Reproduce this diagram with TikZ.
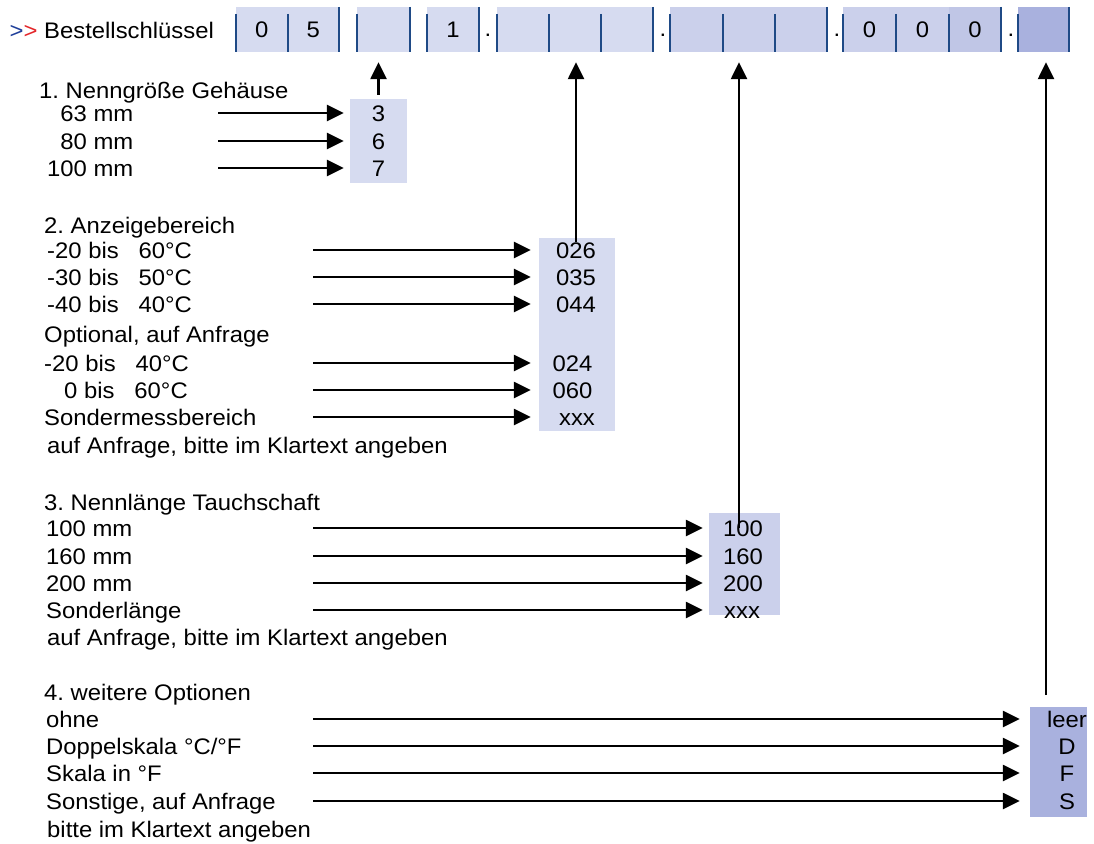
\documentclass[tikz,border=0pt]{standalone}
\usepackage{fontspec}
\setmainfont{Liberation Sans}[FakeStretch=1.06]
\usetikzlibrary{arrows.meta}

\definecolor{barlight}{HTML}{D6DBF0}
\definecolor{barmid}{HTML}{CBD0EB}
\definecolor{bardark}{HTML}{C0C6E6}
\definecolor{barend}{HTML}{A9B1DE}
\definecolor{barline}{HTML}{1F4A86}
\definecolor{keyblue}{HTML}{1F3F9A}
\definecolor{keyred}{HTML}{E3262A}

\begin{document}
\frenchspacing
\begin{tikzpicture}[x=1pt, y=-1pt,
    every node/.style={font=\fontsize{22.5}{27}\selectfont, inner sep=0pt, text height=16pt, text depth=0pt},
    txt/.style={anchor=west},
    cell/.style={minimum width=#1, minimum height=45pt},
    sep/.style={draw=barline, line width=2.6pt},
    arr/.style={-{Triangle[length=17pt, width=16pt]}, line width=2.5pt}]
    \useasboundingbox (0,0) rectangle (1094,843);

    % order key
    \node[txt] (key) at (9.5,30) {\textcolor{keyblue}{>}\textcolor{keyred}{>}~Bestellschlüssel};

    \node[cell=51.5pt, fill=barlight] (cA1) at (261.75,29.5) {0};
    \node[cell=51.5pt, fill=barlight] (cA2) at (313.25,29.5) {5};
    \node[cell=53pt, fill=barlight] (cB) at (383.5,29.5) {};
    \node[cell=52pt, fill=barlight] (cC) at (453,29.5) {1};
    \foreach \i/\x in {1/523,2/575,3/627}
        \node[cell=52pt, fill=barlight] (cD\i) at (\x,29.5) {};
    \foreach \i/\x in {1/696.5,2/749,3/801}
        \node[cell=52.5pt, fill=barmid] (cE\i) at (\x,29.5) {};
    \node[cell=53pt, fill=barmid] (cF1) at (869.5,29.5) {0};
    \node[cell=53pt, fill=barmid] (cF2) at (922.5,29.5) {0};
    \node[cell=52pt, fill=bardark] (cF3) at (975,29.5) {0};
    \node[cell=51pt, fill=barend] (cG) at (1043.5,29.5) {};

    \foreach \x in {236,288,357,427,497,549,601,670,723,775,843,896,949,1018}
        \draw[sep] (\x,14) -- (\x,52);
    \foreach \x in {339,410,479,653,827,1001,1069}
        \draw[sep] (\x,7) -- (\x,52);

    \foreach \i/\x in {1/488,2/663,3/837,4/1011}
        \node[anchor=base] (d\i) at (\x,37) {.};

    % 1. Gehaeuse
    \node[txt] (h1) at (39,90.5) {1. Nenngröße Gehäuse};
    \node[anchor=east] (l1a) at (133.5,113) {63 mm};
    \node[anchor=east] (l1b) at (133.5,141) {80 mm};
    \node[anchor=east] (l1c) at (133.5,168) {100 mm};
    \node[fill=barlight, minimum width=57pt, minimum height=84pt] (box1) at (378.5,141) {};
    \node (v3) at (378.5,113) {3};
    \node (v6) at (378.5,141) {6};
    \node (v7) at (378.5,168) {7};
    \coordinate (s1) at (218,0);
    \foreach \v in {v3,v6,v7}
        \draw[arr, shorten >=6pt] (s1 |- \v) -- (box1.west |- \v);
    \draw[arr, shorten >=10pt] ([yshift=4pt]box1.north) -- (box1.north |- cB.south);

    % 2. Anzeigebereich
    \node[txt] (h2) at (44,225) {2. Anzeigebereich};
    \node[txt] (l2a) at (47,250) {-20 bis~~~60°C};
    \node[txt] (l2b) at (47,277) {-30 bis~~~50°C};
    \node[txt] (l2c) at (47,304) {-40 bis~~~40°C};
    \node[txt] (l2d) at (44,334) {Optional, auf Anfrage};
    \node[txt] (l2e) at (44,363) {-20 bis~~~40°C};
    \node[txt] (l2f) at (64,390) {0 bis~~~60°C};
    \node[txt] (l2g) at (44,417) {Sondermessbereich};
    \node[txt] (l2h) at (47,445) {auf Anfrage, bitte im Klartext angeben};
    \node[fill=barlight, minimum width=76pt, minimum height=193pt] (box2) at (577,334.5) {};
    \node (v026) at (576,250) {026};
    \node (v035) at (576,277) {035};
    \node (v044) at (576,304) {044};
    \node (v024) at (572.5,363) {024};
    \node (v060) at (572.5,390) {060};
    \node (vxxa) at (577,417) {xxx};
    \coordinate (s2) at (313,0);
    \foreach \v in {v026,v035,v044,v024,v060,vxxa}
        \draw[arr, shorten >=8pt] (s2 |- \v) -- (box2.west |- \v);
    \draw[arr, shorten >=10pt] (v026) -- (v026 |- cD2.south);

    % 3. Tauchschaft
    \node[txt] (h3) at (44,502) {3. Nennlänge Tauchschaft};
    \node[txt] (l3a) at (46,528) {100 mm};
    \node[txt] (l3b) at (46,556) {160 mm};
    \node[txt] (l3c) at (46,583) {200 mm};
    \node[txt] (l3d) at (46,610) {Sonderlänge};
    \node[txt] (l3e) at (47,637) {auf Anfrage, bitte im Klartext angeben};
    \node[fill=barmid, minimum width=71pt, minimum height=102pt] (box3) at (744.5,564) {};
    \node[txt] (v100) at (723,528) {100};
    \node[txt] (v160) at (723,556) {160};
    \node[txt] (v200) at (723,583) {200};
    \node[txt] (vxxb) at (724,610) {xxx};
    \foreach \v in {v100,v160,v200,vxxb}
        \draw[arr, shorten >=6pt] (s2 |- \v) -- (box3.west |- \v);
    \draw[arr, shorten >=10pt] ([xshift=16pt]v100.west) -- ([xshift=16pt]v100.west |- cE2.south);

    % 4. Optionen
    \node[txt] (h4) at (44,692) {4. weitere Optionen};
    \node[txt] (l4a) at (46,719) {ohne};
    \node[txt] (l4b) at (46,746) {Doppelskala °C/°F};
    \node[txt] (l4c) at (46,773) {Skala in °F};
    \node[txt] (l4d) at (46,801) {Sonstige, auf Anfrage};
    \node[txt] (l4e) at (47,829) {bitte im Klartext angeben};
    \node[fill=barend, minimum width=57pt, minimum height=110pt] (box4) at (1058.5,762) {};
    \node (vleer) at (1067,719) {leer};
    \node (vD) at (1067,746) {D};
    \node (vF) at (1067,773) {F};
    \node (vS) at (1067,801) {S};
    \foreach \v in {vleer,vD,vF,vS}
        \draw[arr, shorten >=10pt] (s2 |- \v) -- (box4.west |- \v);
    \coordinate (o4) at (1046,695);
    \draw[arr, shorten >=10pt] (o4) -- (o4 |- cG.south);
\end{tikzpicture}
\end{document}
